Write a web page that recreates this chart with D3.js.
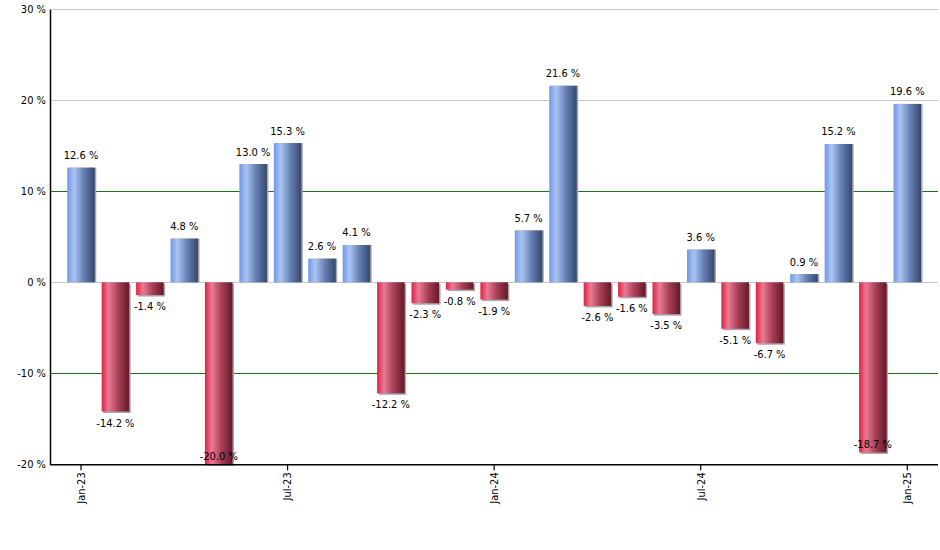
<!DOCTYPE html>
<html><head><meta charset="utf-8">
<script src="https://cdn.jsdelivr.net/npm/d3@7"></script>
<style>body{margin:0;background:#fff;}svg{display:block;font-family:Tahoma,"DejaVu Sans Condensed","Liberation Sans",Arial,sans-serif;}</style>
</head><body><svg id="c" width="940" height="550"></svg>
<script>
const months = ["Jan-23","Feb-23","Mar-23","Apr-23","May-23","Jun-23","Jul-23","Aug-23","Sep-23","Oct-23","Nov-23","Dec-23","Jan-24","Feb-24","Mar-24","Apr-24","May-24","Jun-24","Jul-24","Aug-24","Sep-24","Oct-24","Nov-24","Dec-24","Jan-25"];
const values = [12.6,-14.2,-1.4,4.8,-20.0,13.0,15.3,2.6,4.1,-12.2,-2.3,-0.8,-1.9,5.7,21.6,-2.6,-1.6,-3.5,3.6,-5.1,-6.7,0.9,15.2,-18.7,19.6];
const xTickLabels = ["Jan-23","Jul-23","Jan-24","Jul-24","Jan-25"];
const yTicks = [-20,-10,0,10,20,30];

const svg = d3.select("#c");
const L = 50, R = 938, T = 9.3, B = 464.3;
const x = d3.scaleBand().domain(months).range([63.8, 924.5]).paddingInner(0.2).paddingOuter(0.1);
const y = d3.scaleLinear().domain([-20, 30]).range([B, T]);

const defs = svg.append("defs");
function grad(id, stops){
  const g = defs.append("linearGradient").attr("id", id).attr("x1","0%").attr("x2","100%").attr("y1","0%").attr("y2","0%");
  stops.forEach(s => g.append("stop").attr("offset", s[0]).attr("stop-color", s[1]));
}
grad("gBlue", [[0,"#7098e6"],[0.25,"#aac4f3"],[0.6,"#6780b4"],[1,"#34476c"]]);
grad("gRed", [[0,"#dc2246"],[0.25,"#ea7a92"],[0.6,"#a63f57"],[1,"#661828"]]);

// gridlines
const gridColor = v => (v === 10 || v === -10) ? "#1e6e1e" : "#c8c8c8";
svg.append("g").selectAll("line").data(yTicks.filter(v => v !== -20)).join("line")
  .attr("x1", L).attr("x2", R).attr("y1", d => Math.round(y(d)) + 0.5).attr("y2", d => Math.round(y(d)) + 0.5)
  .attr("stroke", gridColor).attr("stroke-width", 1);

// bars: shadow + bar
const bw = x.bandwidth();
const bars = svg.append("g");
bars.selectAll("rect.sh").data(values).join("rect").attr("class","sh")
  .attr("x", (d,i) => x(months[i]) + 1.5)
  .attr("y", d => Math.min(y(d), y(0)) + (d < 0 ? 1.5 : 0))
  .attr("width", bw)
  .attr("height", d => Math.abs(y(d) - y(0)))
  .attr("fill", "#a8a8a8");
bars.selectAll("rect.b").data(values).join("rect").attr("class","b")
  .attr("x", (d,i) => x(months[i]))
  .attr("y", d => Math.min(y(d), y(0)))
  .attr("width", bw)
  .attr("height", d => Math.abs(y(d) - y(0)))
  .attr("fill", d => d >= 0 ? "url(#gBlue)" : "url(#gRed)");

// value labels
svg.append("g").selectAll("text").data(values).join("text")
  .attr("x", (d,i) => x(months[i]) + bw/2)
  .attr("y", d => {
    if (d >= 0) return y(d) - 8.5;
    const by = y(d);
    return (by + 16 > B) ? by - 4 : by + 15;
  })
  .attr("text-anchor", "middle").attr("font-size", "11px").attr("fill", "#000")
  .text(d => d.toFixed(1) + " %");

// axes
const yAxis = d3.axisLeft(y).tickValues(yTicks).tickSize(0).tickPadding(4).tickFormat(d => d + " %");
const gy = svg.append("g").attr("transform", `translate(${L},0)`).call(yAxis);
gy.select(".domain").attr("stroke", "#000").attr("stroke-width", 1.5);
gy.selectAll("text").attr("font-size", "11px").attr("fill", "#000")
  .attr("font-family", "Tahoma,'DejaVu Sans Condensed','Liberation Sans',Arial,sans-serif");

const xAxis = d3.axisBottom(x).tickValues(xTickLabels).tickSize(6).tickSizeOuter(0).tickPadding(3);
const gx = svg.append("g").attr("transform", `translate(0,${B})`).call(xAxis);
gx.select(".domain").attr("d", `M${L},0.5H${R}`).attr("stroke", "#000").attr("stroke-width", 1.5);
gx.selectAll(".tick line").attr("stroke", "#000").attr("stroke-width", 1.2);
gx.selectAll("text").attr("font-size", "11px").attr("fill", "#000")
  .attr("font-family", "Tahoma,'DejaVu Sans Condensed','Liberation Sans',Arial,sans-serif")
  .attr("text-anchor", "end").attr("transform", "rotate(-90)")
  .attr("x", -8).attr("y", 0).attr("dy", "0.35em");
</script></body></html>
